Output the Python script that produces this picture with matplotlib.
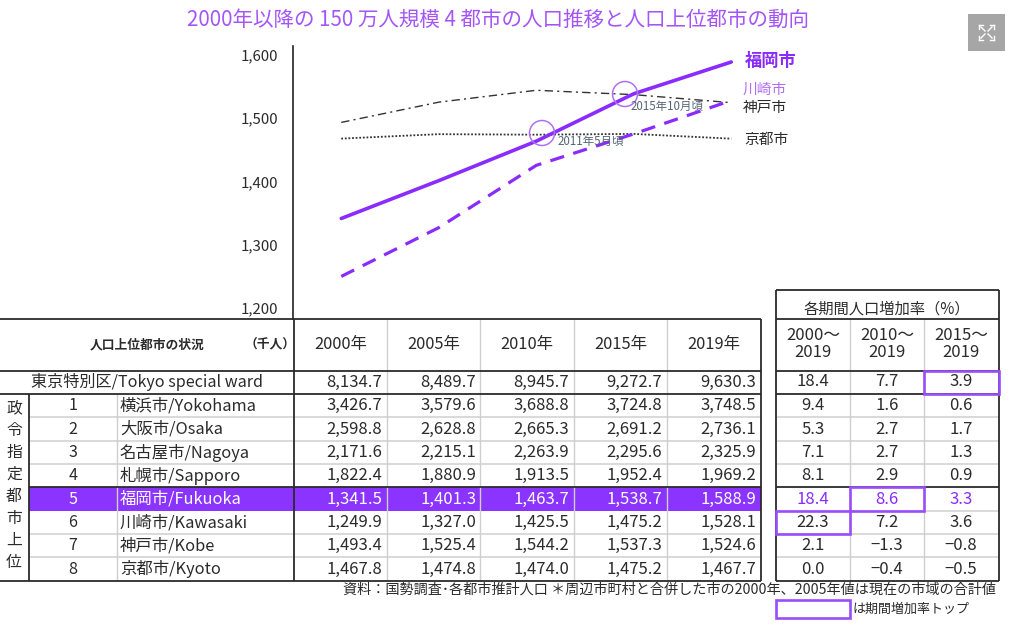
import matplotlib
matplotlib.use("Agg")
import matplotlib.pyplot as plt
from matplotlib.patches import Rectangle, Circle

plt.rcParams['font.family'] = ['Noto Sans CJK JP', 'DejaVu Sans']

# ---------- data ----------
years = ["2000年", "2005年", "2010年", "2015年", "2019年"]
tokyo_label = "東京特別区/Tokyo special ward"
tokyo_values = ["8,134.7", "8,489.7", "8,945.7", "9,272.7", "9,630.3"]
tokyo_rates = ["18.4", "7.7", "3.9"]
ranks = ["1", "2", "3", "4", "5", "6", "7", "8"]
cities = ["横浜市/Yokohama", "大阪市/Osaka", "名古屋市/Nagoya", "札幌市/Sapporo",
          "福岡市/Fukuoka", "川崎市/Kawasaki", "神戸市/Kobe", "京都市/Kyoto"]
yokohama = [3426.7, 3579.6, 3688.8, 3724.8, 3748.5]
osaka = [2598.8, 2628.8, 2665.3, 2691.2, 2736.1]
nagoya = [2171.6, 2215.1, 2263.9, 2295.6, 2325.9]
sapporo = [1822.4, 1880.9, 1913.5, 1952.4, 1969.2]
fukuoka = [1341.5, 1401.3, 1463.7, 1538.7, 1588.9]
kawasaki = [1249.9, 1327.0, 1425.5, 1475.2, 1528.1]
kobe = [1493.4, 1525.4, 1544.2, 1537.3, 1524.6]
kyoto = [1467.8, 1474.8, 1474.0, 1475.2, 1467.7]
rate_heads = ["2000～\n2019", "2010～\n2019", "2015～\n2019"]
rates = [["9.4", "1.6", "0.6"], ["5.3", "2.7", "1.7"], ["7.1", "2.7", "1.3"],
         ["8.1", "2.9", "0.9"], ["18.4", "8.6", "3.3"], ["22.3", "7.2", "3.6"],
         ["2.1", "−1.3", "−0.8"], ["0.0", "−0.4", "−0.5"]]
y_ticks = [1200, 1300, 1400, 1500, 1600]
side_label = "政令指定都市上位"

PURPLE = "#8A2BFF"
LIGHT = "#B070F5"
DARK = "#2b2b2b"
GRID = "#cfcfcf"
W, H = 1024, 630

fig = plt.figure(figsize=(W / 100, H / 100), dpi=100, facecolor="white")

# ---------- chart ----------
L, R, T, B = 292.5, 780, 46, 319
ax = fig.add_axes([L / W, 1 - B / H, (R - L) / W, (B - T) / H])
ax.set_xlim(-0.5, 4.5)
ax.set_ylim(1182.6, 1614.2)
ax.patch.set_alpha(0)
x = range(len(years))
ax.plot(x, kyoto, color="#333333", lw=1.3, ls=(0, (1, 1)))
ax.plot(x, kobe, color="#333333", lw=1.0, ls=(0, (6, 3, 1.5, 3)))
ax.plot(x, kawasaki, color=PURPLE, lw=2.3, ls=(0, (4.5, 3)))
ax.plot(x, fukuoka, color=PURPLE, lw=2.6, solid_capstyle="round")
for s in ["top", "right", "bottom"]:
    ax.spines[s].set_visible(False)
ax.spines["left"].set_color("#222222")
ax.spines["left"].set_linewidth(1.2)
ax.set_xticks([])
ax.set_yticks(y_ticks)
ax.set_yticklabels([f"{v:,}" for v in y_ticks], fontsize=10.8, color=DARK)
ax.tick_params(axis="y", length=0, pad=10)

# ---------- overlay in pixel coordinates ----------
ov = fig.add_axes([0, 0, 1, 1])
ov.set_xlim(0, W)
ov.set_ylim(H, 0)
ov.axis("off")
ov.patch.set_alpha(0)


def t(px, py, s, size=12, color=DARK, ha="center", **kw):
    ov.text(px, py, s, fontsize=size, color=color, ha=ha, va="center", **kw)


def hl(y, x0, x1, color=DARK, lw=1.3):
    ov.plot([x0, x1], [y, y], color=color, lw=lw, solid_capstyle="butt")


def vl(x_, y0, y1, color=DARK, lw=1.3):
    ov.plot([x_, x_], [y0, y1], color=color, lw=lw, solid_capstyle="butt")


t(498, 20, "2000年以降の 150 万人規模 4 都市の人口推移と人口上位都市の動向", size=14.8, color="#A455F7")

# expand icon
ov.add_patch(Rectangle((968, 14), 37, 37, fc="#a6a6a6", ec="none"))
for cx, cy, dx, dy in [(981, 27, 1, 1), (992, 27, -1, 1), (981, 38, 1, -1), (992, 38, -1, -1)]:
    ov.plot([cx, cx + 4 * dx], [cy, cy + 4 * dy], color="white", lw=1)
    ov.plot([cx - 2 * dx, cx + 2 * dx, ], [cy - 2 * dy, cy - 2 * dy], color="white", lw=1)
    ov.plot([cx - 2 * dx, cx - 2 * dx], [cy - 2 * dy, cy + 2 * dy], color="white", lw=1)

# series labels
t(745, 61, "福岡市", size=12.4, color=PURPLE, ha="left", fontweight="bold")
t(743, 90, "川崎市", size=10.6, color=LIGHT, ha="left")
t(743, 108, "神戸市", size=10.6, ha="left")
t(744, 140, "京都市", size=10.6, ha="left")

# callouts
ov.add_patch(Circle((542, 133), 12.5, fc="none", ec=LIGHT, lw=1.1))
ov.add_patch(Circle((625, 94), 12.5, fc="none", ec=LIGHT, lw=1.1))
t(558, 141, "2011年5月頃", size=8.3, color="#56657a", ha="left")
t(631, 106, "2015年10月頃", size=8.3, color="#56657a", ha="left")

# table geometry
row_lines = [394, 417.3, 440.7, 464, 487.3, 510.6, 534, 557.2, 580.5]
col_lines = [293.7, 387, 480, 573.7, 667, 760.7]
rate_cols = [775.5, 849.7, 924, 999]

# highlighted row
ov.add_patch(Rectangle((28.5, row_lines[4]), col_lines[-1] - 28.5, row_lines[5] - row_lines[4],
                       fc="#8B33FF", ec="none", zorder=0))

# light grid, left table
for i in range(1, 8):
    if i not in (4, 5):
        hl(row_lines[i], 28.5, 760.7, GRID, 1.1)
        hl(row_lines[i], 775.5, 999, GRID, 1.1)
hl(row_lines[5], 775.5, 999, GRID, 1.1)
for c in col_lines[1:-1]:
    vl(c, 319, 580.5, GRID, 1.0)
vl(117, 394, 580.5, GRID, 1.0)
for c in rate_cols[1:-1]:
    vl(c, 318.5, 580.5, GRID, 1.0)

# dark frame, left table
hl(319, 0, 760.7)
hl(370.5, 0, 760.7)
hl(394, 0, 760.7)
hl(row_lines[4], 28.5, 760.7)
hl(580.5, 0, 760.7)
vl(28.5, 394, 580.5)
vl(293.7, 319, 580.5)
vl(760.7, 319, 580.5)

# dark frame, rate table
hl(290, 775.5, 999)
hl(318.5, 775.5, 999)
hl(370.5, 775.5, 999)
hl(394, 775.5, 999)
hl(row_lines[4], 775.5, 999)
hl(580.5, 775.5, 999)
vl(775.5, 290, 580.5)
vl(999, 290, 580.5)

# header
t(147, 345, "人口上位都市の状況", size=9.2, fontweight="bold")
t(270, 345, "（千人）", size=9.2, fontweight="bold")
col_right = [382, 476, 569, 662, 756]
col_mid = [341, 434, 527, 621, 714]
for cm, y_ in zip(col_mid, years):
    t(cm, 345, y_, size=11.8)
t(887, 309, "各期間人口増加率（%）", size=11)
rate_mid = [813, 887, 961]
for cm, h_ in zip(rate_mid, rate_heads):
    t(cm, 344, h_, size=12, linespacing=1.0)

# Tokyo row
t(147, 382, tokyo_label, size=11.6)
for cr, v in zip(col_right, tokyo_values):
    t(cr, 382, v, size=12, ha="right")
for cm, v in zip(rate_mid, tokyo_rates):
    t(cm, 382, v, size=12)

# side label
for i, ch in enumerate(side_label):
    t(14, 408 + i * 22.1, ch, size=11.4)

# city rows
columns = [yokohama, osaka, nagoya, sapporo, fukuoka, kawasaki, kobe, kyoto]
for i, (rk, name, vals, rr) in enumerate(zip(ranks, cities, columns, rates)):
    yc = (row_lines[i] + row_lines[i + 1]) / 2 + 0.3
    c = "white" if i == 4 else DARK
    t(73, yc, rk, size=11.6, color=c)
    t(120, yc, name, size=11.8, color=c, ha="left")
    for cr, v in zip(col_right, vals):
        t(cr, yc, f"{v:,.1f}", size=12, color=c, ha="right")
    for cm, v in zip(rate_mid, rr):
        t(cm, yc, v, size=12, color=PURPLE if i == 4 else DARK)


def box(x0, y0, x1, y1):
    ov.add_patch(Rectangle((x0, y0), x1 - x0, y1 - y0, fc="none", ec="#9A4DFA", lw=1.9, zorder=5))


box(924, 371, 999, 394)
box(849.7, 487.3, 924, 510.6)
box(775.5, 510.6, 849.7, 534)
box(775.5, 600, 849.7, 618)

# notes
t(996, 590, "資料：国勢調査･各都市推計人口 ＊周辺市町村と合併した市の2000年、2005年値は現在の市域の合計値",
  size=10.2, ha="right")
t(852, 609, "は期間増加率トップ", size=9.4, ha="left")

fig.savefig("out.png", dpi=100, facecolor="white")
